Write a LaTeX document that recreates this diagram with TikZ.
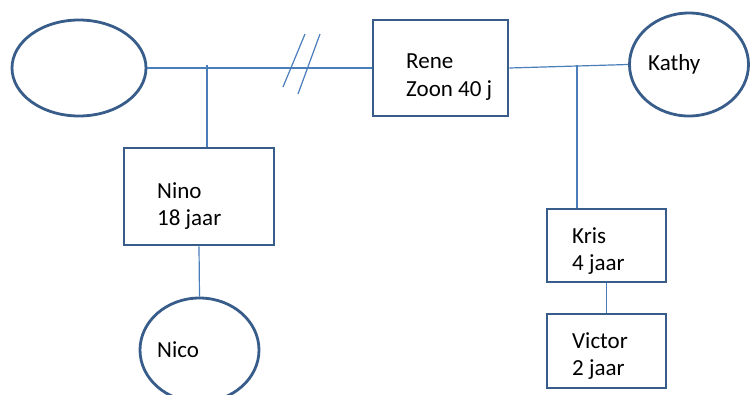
\documentclass[tikz,border=0pt]{standalone}
\usepackage{fontspec}
\setmainfont{Carlito}
\usepackage{tikz}
\usetikzlibrary{shapes.geometric}
\definecolor{rand}{HTML}{385D8A}
\definecolor{lijn}{HTML}{4A7EBB}
\tikzset{doos/.style={draw=rand,line width=2.8pt,rectangle},
	ovaal/.style={draw=rand,line width=2.8pt,ellipse},
	lijnstijl/.style={draw=lijn,line width=1.2pt},
	tekst/.style={anchor=west,align=left,inner sep=0pt,font=\fontsize{23}{27.5}\selectfont}}

\begin{document}
\begin{tikzpicture}[x=1pt,y=-1pt]
			\useasboundingbox (0,0) rectangle (750,394);
			\coordinate (NT) at (207,64.5);
			\coordinate (KT) at (577,64.8);
			\coordinate (S1) at (283,87);
			\coordinate (S2) at (305,34);
			\coordinate (S3) at (298,94);
			\coordinate (S4) at (320,34);
			
			\node[ovaal,minimum width=134pt,minimum height=96pt] (vrouw) at (79,68) {};
			\node[doos,minimum width=135pt,minimum height=96pt] (rene) at (440.5,68) {};
			\node[ovaal,minimum width=119pt,minimum height=103pt] (kathy) at (689,64.5) {};
			\node[doos,minimum width=150pt,minimum height=97pt] (nino) at (199,196.5) {};
			\node[ovaal,minimum width=119pt,minimum height=104pt] (nico) at (199.5,350) {};
			\node[doos,minimum width=119pt,minimum height=73pt] (kris) at (606.5,245.5) {};
			\node[doos,minimum width=119pt,minimum height=74pt] (victor) at (606.5,351) {};
			
			\node[tekst] (renetekst) at (406,77) {Rene\\Zoon 40 j};
			\node[tekst] (kathytekst) at (648,64) {Kathy};
			\node[tekst] (ninotekst) at (157,206) {Nino\\18 jaar};
			\node[tekst] (nicotekst) at (157,350) {Nico};
			\node[tekst] (kristekst) at (572,251) {Kris\\4 jaar};
			\node[tekst] (victortekst) at (572,356) {Victor\\2 jaar};
			
			\draw[lijnstijl] (vrouw.east)--(rene.west);
			\draw[lijnstijl] (S1)--(S2);
			\draw[lijnstijl] (S3)--(S4);
			\draw[lijnstijl] (NT)--(NT |- nino.north);
			\draw[lijnstijl] (nino.south)--(nico.north);
			\draw[lijnstijl] (rene.east)--(kathy.west);
			\draw[lijnstijl] (KT)--(KT |- kris.north);
			\draw[lijnstijl] (kris.south)--(victor.north);
			
		\end{tikzpicture}
\end{document}
